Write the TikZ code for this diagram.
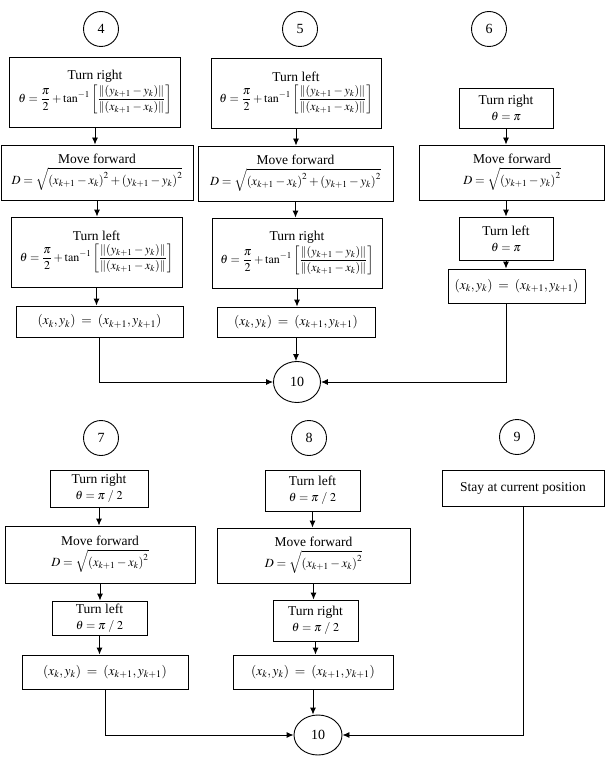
\documentclass[tikz,border=0pt]{standalone}
\usepackage{amsmath}
\usepackage{mathptmx}
\usepackage[no-math]{fontspec}
\setmainfont{Liberation Serif}
\usepackage{tikz}
\usetikzlibrary{shapes.geometric,arrows.meta}

\newcommand{\formsize}{\fontsize{12}{14}\selectfont}
\newcommand{\turnangle}{{\formsize$\displaystyle\theta=\frac{\pi}{2}+\tan^{-1}\left[\frac{\left\|\left(y_{k+1}-y_k\right)\right\|}{\left\|\left(x_{k+1}-x_k\right)\right\|}\right]$}}
\newcommand{\nextpos}{$(x_k,y_k)\;=\;(x_{k+1},y_{k+1})$}

\begin{document}
\begin{tikzpicture}[
		x=1pt, y=-1pt,
		line width=0.9pt,
		stepbox/.style={
			draw,
			align=center,
			inner sep=2pt,
			font=\fontsize{13.5}{16}\selectfont
		},
		casenode/.style={
			draw,
			ellipse,
			minimum width=35pt,
			minimum height=35pt,
			inner sep=0pt,
			font=\fontsize{14}{16}\selectfont
		},
		endnode/.style={
			casenode,
			minimum width=47pt,
			minimum height=41pt
		},
		arrow/.style={-{Latex[length=7pt,width=6pt]}}
		]
		\useasboundingbox (0,0) rectangle (609,762);
		
		% Case 4
		\node[casenode] (c4) at (101,29) {4};
		\node[stepbox, minimum width=171pt, minimum height=70pt] (a1) at (95,92) {
			Turn right\\[2pt] \turnangle};
		\node[stepbox, minimum width=192pt, minimum height=55pt] (a2) at (97,172.5) {
			Move forward\\[3pt]
			{\fontsize{12.5}{14}\selectfont$D=\sqrt{\left(x_{k+1}-x_k\right)^2+\left(y_{k+1}-y_k\right)^2}$}};
		\node[stepbox, minimum width=171pt, minimum height=70pt] (a3) at (96.5,252) {
			Turn left\\[2pt] \turnangle};
		\node[stepbox, minimum width=167pt, minimum height=31pt] (a4) at (99.5,321.5) {\nextpos};
		
		% Case 5
		\node[casenode] (c5) at (300,29) {5};
		\node[stepbox, minimum width=170pt, minimum height=70pt] (b1) at (296,93) {
			Turn left\\[2pt] \turnangle};
		\node[stepbox, minimum width=195pt, minimum height=55pt] (b2) at (295.5,173.5) {
			Move forward\\[3pt]
			{\fontsize{12.5}{14}\selectfont$D=\sqrt{\left(x_{k+1}-x_k\right)^2+\left(y_{k+1}-y_k\right)^2}$}};
		\node[stepbox, minimum width=170pt, minimum height=70pt] (b3) at (297,253) {
			Turn right\\[2pt] \turnangle};
		\node[stepbox, minimum width=158pt, minimum height=30pt] (b4) at (296,322) {\nextpos};
		
		% Case 6
		\node[casenode] (c6) at (489,29) {6};
		\node[stepbox, minimum width=94pt, minimum height=40pt] (c1) at (506,108) {
			Turn right\\ {\formsize$\theta=\pi$}};
		\node[stepbox, minimum width=185pt, minimum height=55pt] (c2) at (512,172.5) {
			Move forward\\[3pt]
			{\fontsize{12.5}{14}\selectfont$D=\sqrt{\left(y_{k+1}-y_k\right)^2}$}};
		\node[stepbox, minimum width=94pt, minimum height=43pt] (c3) at (506,238.5) {
			Turn left\\ {\formsize$\theta=\pi$}};
		\node[stepbox, minimum width=137pt, minimum height=34pt] (c4box) at (516.5,286) {\nextpos};
		
		\node[endnode] (end1) at (297,382) {10};
		
		% Case 7
		\node[casenode] (c7) at (101,438) {7};
		\node[stepbox, minimum width=98pt, minimum height=37pt] (d1) at (99,488.5) {
			Turn right\\ {\formsize$\theta=\pi\;/\;2$}};
		\node[stepbox, minimum width=190pt, minimum height=57pt] (d2) at (100,554.5) {
			Move forward\\[3pt]
			{\fontsize{12.5}{14}\selectfont$D=\sqrt{\left(x_{k+1}-x_k\right)^2}$}};
		\node[stepbox, minimum width=95pt, minimum height=34pt] (d3) at (99.5,618) {
			Turn left\\ {\formsize$\theta=\pi\;/\;2$}};
		\node[stepbox, minimum width=166pt, minimum height=34pt] (d4) at (105,672) {\nextpos};
		
		% Case 8
		\node[casenode] (c8) at (309,438) {8};
		\node[stepbox, minimum width=95pt, minimum height=41pt] (e1) at (312.5,490.5) {
			Turn left\\ {\formsize$\theta=\pi\;/\;2$}};
		\node[stepbox, minimum width=193pt, minimum height=55pt] (e2) at (313.5,555.5) {
			Move forward\\[3pt]
			{\fontsize{12.5}{14}\selectfont$D=\sqrt{\left(x_{k+1}-x_k\right)^2}$}};
		\node[stepbox, minimum width=85pt, minimum height=41pt] (e3) at (315.5,620.5) {
			Turn right\\ {\formsize$\theta=\pi\;/\;2$}};
		\node[stepbox, minimum width=160pt, minimum height=34pt] (e4) at (313,672) {\nextpos};
		
		% Case 9
		\node[casenode] (c9) at (517,437) {9};
		\node[stepbox, minimum width=162pt, minimum height=36pt] (f1) at (523,488) {
			Stay at current position};
		
		\node[endnode, minimum width=48pt, minimum height=40pt] (end2) at (318,735) {10};
		
		% Arrows
		\draw[arrow] (a1.south) -- (a1.south |- a2.north);
		\draw[arrow] (a2.south) -- (a2.south |- a3.north);
		\draw[arrow] (a3.south) -- (a3.south |- a4.north);
		\draw[arrow] (a4.south) |- (end1.west);
		
		\draw[arrow] (b1.south) -- (b1.south |- b2.north);
		\draw[arrow] (b2.south) -- (b2.south |- b3.north);
		\draw[arrow] (b3.south) -- (b3.south |- b4.north);
		\draw[arrow] (b4.south) -- (b4.south |- end1.north);
		
		\draw[arrow] (c1.south) -- (c1.south |- c2.north);
		\draw[arrow] (c2.south -| c1.south) -- (c1.south |- c3.north);
		\draw[arrow] (c3.south) -- (c3.south |- c4box.north);
		\draw[arrow] (c3.south |- c4box.south) |- (end1.east);
		
		\draw[arrow] (d1.south) -- (d1.south |- d2.north);
		\draw[arrow] (d2.south) -- (d2.south |- d3.north);
		\draw[arrow] (d3.south) -- (d3.south |- d4.north);
		\draw[arrow] (d4.south) |- (end2.west);
		
		\draw[arrow] (e1.south) -- (e1.south |- e2.north);
		\draw[arrow] (e2.south) -- (e2.south |- e3.north);
		\draw[arrow] (e3.south) -- (e3.south |- e4.north);
		\draw[arrow] (e4.south) -- (e4.south |- end2.north);
		
		\draw[arrow] (f1.south) |- (end2.east);
		
	\end{tikzpicture}
\end{document}
